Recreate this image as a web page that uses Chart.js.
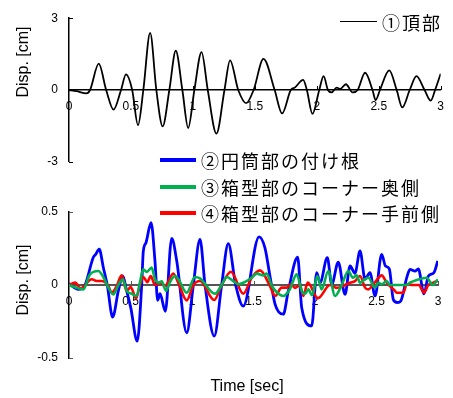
<!DOCTYPE html>
<html>
<head>
<meta charset="utf-8">
<script src="https://cdn.jsdelivr.net/npm/chart.js@4.4.1/dist/chart.umd.min.js"></script>
<style>
  body { margin: 0; background: #fff; }
  #wrap { position: relative; width: 453px; height: 398px; overflow: hidden; font-family: "Liberation Sans", Arial, sans-serif; }
  canvas { position: absolute; left: 0; }
  .leg { position: absolute; font-family: "Noto Sans CJK JP", sans-serif; font-size: 18px; letter-spacing: 2px; line-height: 20px; white-space: nowrap; color: #000; }
  .sw { position: absolute; }
  .ttl { position: absolute; font-size: 16px; line-height: 18px; white-space: nowrap; color: #000; }
</style>
</head>
<body>
<div id="wrap">
  <canvas id="top-chart" width="453" height="180" style="top:0"></canvas>
  <canvas id="bottom-chart" width="453" height="218" style="top:180px"></canvas>

  <div class="ttl" style="left:23px;top:62px;transform:translate(-50%,-50%) rotate(-90deg)">Disp. [cm]</div>
  <div class="ttl" style="left:23px;top:280px;transform:translate(-50%,-50%) rotate(-90deg)">Disp. [cm]</div>
  <div class="ttl" style="left:247px;top:386px;transform:translate(-50%,-50%)">Time [sec]</div>

  <div class="sw" style="left:340px;top:21px;width:37px;height:1px;background:#000"></div>
  <div class="leg" style="left:382px;top:12px">①頂部</div>

  <div class="sw" style="left:160px;top:158px;width:36px;height:4px;background:#0000ff"></div>
  <div class="leg" style="left:201px;top:150px">②円筒部の付け根</div>
  <div class="sw" style="left:160px;top:185px;width:36px;height:4px;background:#00b050"></div>
  <div class="leg" style="left:201px;top:177px">③箱型部のコーナー奥側</div>
  <div class="sw" style="left:160px;top:211px;width:36px;height:4px;background:#ff0000"></div>
  <div class="leg" style="left:201px;top:203px">④箱型部のコーナー手前側</div>
</div>

<script>
// ── tick values ─────────────────────────────────────────────
const timeTicks   = [0, 0.5, 1, 1.5, 2, 2.5, 3];
const topTicks    = [-3, 0, 3];
const bottomTicks = [-0.5, 0, 0.5];

// ── ① top (cm) ─────────────────────────────────────────────
const topTime = [0, 0.06, 0.14, 0.17, 0.24, 0.30, 0.36, 0.42, 0.46, 0.51, 0.557, 0.60, 0.655, 0.705, 0.756, 0.81, 0.862, 0.915, 0.962, 1.012,
  1.07, 1.12, 1.19, 1.255, 1.30, 1.366, 1.43, 1.49, 1.57, 1.66, 1.72, 1.79, 1.825, 1.89, 1.92, 1.965, 2.02, 2.055, 2.09, 2.12,
  2.16, 2.19, 2.235, 2.29, 2.33, 2.39, 2.45, 2.475, 2.51, 2.585, 2.645, 2.69, 2.75, 2.805, 2.87, 2.92, 2.955, 3.0];
const topDisp = [0, -0.05, -0.14, 0, 1.10, 0, -0.82, 0, 0.65, 0, -1.47, 0, 2.39, 0, -1.52, 0, 1.64, 0, -1.59, 0,
  1.58, 0, -1.82, 0, 1.24, 0, -0.55, 0, 1.30, 0, -0.98, 0, 0.11, 0.42, 0, -1.0, 0, 0.58, 0, -0.1,
  0.1, 0.05, 0.24, -0.1, 0, 0.72, 0, -0.42, 0, 0.82, 0, -0.73, 0, 0.58, 0, -0.44, 0, 0.68];

// ── ② cylinder base (blue) ──────────────────────────────────
const baseTime = [0, 0.076, 0.13, 0.198, 0.217, 0.246, 0.279, 0.311, 0.355, 0.401, 0.437, 0.469, 0.502, 0.555, 0.591, 0.604, 0.626, 0.667, 0.699, 0.721,
  0.740, 0.783, 0.835, 0.876, 0.957, 1.011, 1.065, 1.106, 1.181, 1.241, 1.295, 1.355, 1.417, 1.545, 1.593, 1.634, 1.675, 1.742, 1.783, 1.859,
  1.892, 1.973, 2.014, 2.041, 2.100, 2.136, 2.189, 2.244, 2.285, 2.325, 2.366, 2.407, 2.447, 2.488, 2.542, 2.573, 2.604, 2.637, 2.669, 2.697,
  2.746, 2.772, 2.813, 2.840, 2.886, 2.921, 2.967, 2.998];
const baseDisp = [0.01, -0.03, 0, 0.19, 0.21, 0.245, 0.12, 0, -0.22, -0.04, 0.062, -0.04, -0.155, -0.385, 0, 0.23, 0.29, 0.427, 0.164, -0.105,
  -0.06, -0.18, 0.32, 0.164, -0.327, 0, 0.313, 0, -0.35, 0, 0.283, 0, -0.144, 0.33, 0.255, 0.06, -0.13, -0.2, -0.04, 0.19,
  -0.155, -0.28, 0.085, 0.015, 0.187, 0.005, 0.157, -0.064, 0.13, 0.08, 0.233, 0.04, 0.085, -0.075, 0.21, 0.13, 0.11, -0.1, -0.12, -0.11,
  0.05, 0.107, 0.095, 0.11, -0.06, 0.06, 0.085, 0.165];

// ── ③ box corner, far side (green) ──────────────────────────
const farTime = [0, 0.076, 0.116, 0.171, 0.238, 0.279, 0.320, 0.360, 0.401, 0.437, 0.469, 0.510, 0.550, 0.577, 0.604, 0.632, 0.672, 0.699, 0.726, 0.754,
  0.789, 0.821, 0.862, 0.889, 0.957, 1.024, 1.065, 1.187, 1.241, 1.282, 1.336, 1.376, 1.417, 1.485, 1.526, 1.580, 1.607, 1.648, 1.689, 1.742,
  1.797, 1.851, 1.892, 1.919, 1.946, 1.976, 2.019, 2.054, 2.108, 2.163, 2.217, 2.271, 2.307, 2.339, 2.366, 2.407, 2.433, 2.488, 2.515, 2.542,
  2.583, 2.610, 2.691, 2.746, 2.772, 2.827, 2.908, 2.957, 2.998];
const farDisp = [0, -0.023, -0.03, 0.073, 0.096, 0.055, -0.018, -0.064, 0, 0.039, -0.04, -0.06, -0.075, 0.02, 0.107, 0.09, 0.119, 0.039, 0.016, 0.025,
  -0.04, 0.02, 0.062, 0.04, -0.053, 0.055, 0.045, -0.06, 0, 0.055, 0.027, 0.005, 0.015, 0.05, 0.078, 0.065, 0.078, -0.005, -0.05, -0.075,
  -0.027, 0.073, -0.04, -0.06, -0.03, -0.07, 0.062, -0.03, 0.096, -0.075, 0, 0.096, 0.05, 0.066, 0.015, 0.04, 0.05, -0.018, 0.016, 0.005,
  0.027, 0, 0, 0, 0.016, 0.035, 0.05, 0, 0.039];

// ── ④ box corner, near side (red) ───────────────────────────
const nearTime = [0, 0.049, 0.095, 0.185, 0.225, 0.266, 0.320, 0.347, 0.388, 0.428, 0.469, 0.502, 0.545, 0.577, 0.604, 0.637, 0.664, 0.699, 0.740, 0.780,
  0.848, 0.889, 0.957, 1.011, 1.065, 1.181, 1.241, 1.317, 1.417, 1.485, 1.553, 1.634, 1.675, 1.729, 1.770, 1.805, 1.837, 1.878, 1.905, 1.941,
  2.024, 2.122, 2.176, 2.217, 2.285, 2.325, 2.366, 2.407, 2.433, 2.488, 2.542, 2.583, 2.650, 2.664, 2.718, 2.746, 2.797, 2.846, 2.867, 2.886,
  2.921, 2.962, 2.998];
const nearDisp = [0, 0.016, -0.023, 0.039, 0.027, 0.027, -0.007, -0.053, -0.007, 0.066, -0.04, -0.014, -0.091, 0, 0.055, 0.02, 0.062, 0, 0.016, -0.007,
  0.078, 0.014, -0.105, 0, 0.027, -0.103, 0, 0.091, -0.06, 0.05, 0.1, -0.007, -0.075, -0.018, -0.018, 0.005, -0.02, 0, -0.075, 0.016,
  -0.09, 0, -0.02, -0.01, 0.016, 0.027, 0.062, -0.018, -0.03, 0.02, 0.066, 0.016, -0.04, -0.053, -0.053, 0.005, 0, 0, -0.03, -0.053,
  0, 0.016, 0.027];

const pts = (xs, ys) => xs.map((x, i) => ({ x, y: ys[i] }));
const tickFont = { family: 'Liberation Sans', size: 12 };

// small inward tick marks on both axes
const innerTicks = {
  id: 'innerTicks',
  beforeDatasetsDraw(chart, args, opts) {
    const { ctx, chartArea, scales: { x, y } } = chart;
    const y0 = y.getPixelForValue(0);
    ctx.save();
    ctx.strokeStyle = opts.color;
    ctx.lineWidth = 1;
    ctx.beginPath();
    timeTicks.forEach(v => {
      if (v === 0) return;
      const px = Math.round(x.getPixelForValue(v)) + 0.5;
      ctx.moveTo(px, y0);
      ctx.lineTo(px, y0 - 4);
    });
    y.ticks.forEach(t => {
      const py = Math.round(y.getPixelForValue(t.value)) + 0.5;
      ctx.moveTo(chartArea.left, py);
      ctx.lineTo(chartArea.left + 4, py);
    });
    ctx.stroke();
    ctx.restore();
  },
};

function makeScales(yTicks, zeroColor, zeroWidth) {
  return {
    x: {
      type: 'linear', min: 0, max: 3,
      position: { y: 0 },
      afterFit: s => { s.height = 0; },
      afterBuildTicks: s => { s.ticks = timeTicks.map(v => ({ value: v })); },
      grid: { drawOnChartArea: false, drawTicks: false },
      border: { color: zeroColor, width: zeroWidth },
      ticks: { color: '#000', font: tickFont, padding: 9, maxRotation: 0, autoSkip: false, callback: v => String(v) },
    },
    y: {
      type: 'linear', min: yTicks[0], max: yTicks[yTicks.length - 1],
      afterFit: s => { s.width = 69; },
      afterBuildTicks: s => { s.ticks = yTicks.map(v => ({ value: v })); },
      grid: { drawOnChartArea: false, drawTicks: false },
      border: { color: '#000', width: 1.5 },
      ticks: { color: '#000', font: tickFont, padding: 11, callback: v => String(v) },
    },
  };
}

const common = {
  responsive: false,
  animation: false,
  devicePixelRatio: 1,
  plugins: { legend: { display: false }, tooltip: { enabled: false } },
  elements: { point: { radius: 0 }, line: { cubicInterpolationMode: 'monotone' } },
};

new Chart(document.getElementById('top-chart'), {
  type: 'line',
  data: {
    datasets: [
      { label: '①頂部', data: pts(topTime, topDisp), borderColor: '#000', borderWidth: 1.8 },
    ],
  },
  options: {
    ...common,
    layout: { padding: { left: 0, top: 15, right: 7, bottom: 18 } },
    scales: makeScales(topTicks, '#000', 1.5),
    plugins: { ...common.plugins, innerTicks: { color: '#000' } },
  },
  plugins: [innerTicks],
});

new Chart(document.getElementById('bottom-chart'), {
  type: 'line',
  data: {
    datasets: [
      { label: '③箱型部のコーナー奥側', data: pts(farTime, farDisp), borderColor: '#00b050', borderWidth: 2.6 },
      { label: '④箱型部のコーナー手前側', data: pts(nearTime, nearDisp), borderColor: '#ff0000', borderWidth: 2.6 },
      { label: '②円筒部の付け根', data: pts(baseTime, baseDisp), borderColor: '#0000ff', borderWidth: 2.8 },
    ],
  },
  options: {
    ...common,
    layout: { padding: { left: 0, top: 32, right: 15, bottom: 40 } },
    scales: makeScales(bottomTicks, '#555', 2),
    plugins: { ...common.plugins, innerTicks: { color: '#555' } },
  },
  plugins: [innerTicks],
});
</script>
</body>
</html>
